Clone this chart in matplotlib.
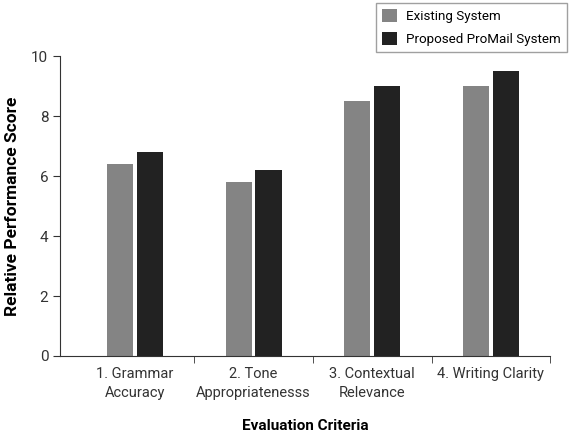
import matplotlib
matplotlib.use("Agg")
import matplotlib.pyplot as plt
import numpy as np

plt.rcParams['font.family'] = ['Roboto', 'DejaVu Sans']

# Datos
criteria = ["1. Grammar\nAccuracy", "2. Tone\nAppropriatenesss", "3. Contextual\nRelevance", "4. Writing Clarity"]
existing = [6.4, 5.8, 8.5, 9.0]
proposed = [6.8, 6.2, 9.0, 9.5]

x = np.arange(len(criteria))
w = 0.22

fig = plt.figure(figsize=(5.72, 4.32), dpi=100)
ax = fig.add_axes([0.105, 0.176, 0.857, 0.694])

ax.bar(x - 0.126, existing, width=w, color="#848484", label="Existing System")
ax.bar(x + 0.126, proposed, width=w, color="#222222", label="Proposed ProMail System")

ax.set_xlim(-0.63, 3.5)
ax.set_ylim(0, 10)
ax.set_xticks(x)
ax.set_xticklabels(criteria, fontsize=10.5, color="#333333", linespacing=1.45)
ax.tick_params(axis='x', which='major', length=0, pad=8)
ax.set_xticks([0.5, 1.5, 2.5, 3.5], minor=True)
ax.tick_params(axis='x', which='minor', length=5, color="#333333")
ax.tick_params(axis='y', labelsize=11, labelcolor="#333333", length=5, color="#333333")
ax.set_yticks([0, 2, 4, 6, 8, 10])

for s in ['top', 'right']:
    ax.spines[s].set_visible(False)
for s in ['left', 'bottom']:
    ax.spines[s].set_color("#333333")

ax.set_ylabel("Relative Performance Score", fontsize=12.5, fontweight='bold', labelpad=8)
ax.set_xlabel("Evaluation Criteria", fontsize=11, fontweight='bold', labelpad=14)

fig.legend(loc='upper right', bbox_to_anchor=(0.991, 0.993), borderaxespad=0, fontsize=9.6,
           frameon=True, fancybox=False, edgecolor="#888888", handlelength=1.1, handleheight=1.1,
           handletextpad=0.7, borderpad=0.45, labelspacing=0.7)

plt.savefig("out.png", dpi=100)
